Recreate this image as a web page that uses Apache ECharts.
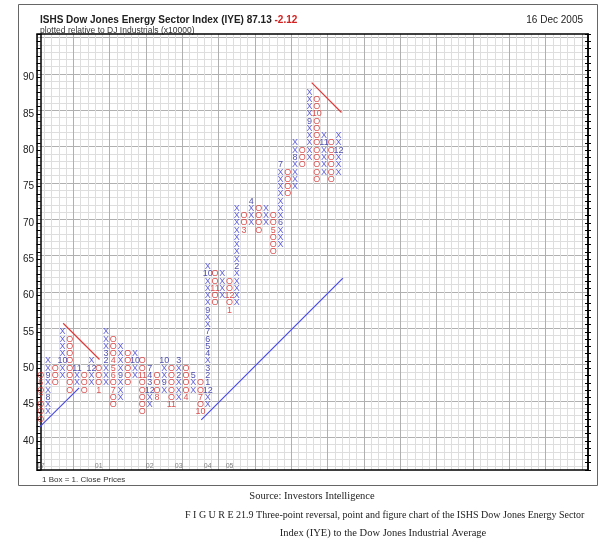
<!DOCTYPE html>
<html><head><meta charset="utf-8">
<script src="https://cdn.jsdelivr.net/npm/echarts@6/dist/echarts.min.js"></script>
<style>html,body{margin:0;padding:0;background:#fff;}#c{width:605px;height:545px;}</style>
</head><body><div id="c"></div><script>
// ---- data ----
const colTypes   = ['O','X','O','X','O','X','O','X','O','X','O','X','O','X','O','X','O','X','O','X','O','X','O','X','O','X','O','X','O','X','O','X','O','X','O','X','O','X','O','X','O','X'];
const colBottoms = [43,44,48,49,47,48,47,48,47,48,45,46,48,49,44,45,46,47,45,46,46,47,44,45,59,60,58,59,69,70,69,70,66,67,74,75,78,79,76,77,76,77];
const colTops    = [49,51,50,55,54,50,49,51,50,55,54,53,52,52,51,50,49,51,50,51,50,49,48,64,63,63,62,72,71,73,72,72,71,78,77,81,80,88,87,82,81,82];
const monthMarks = [
  [0,48,'6'],[0,46,'7'],[1,46,'8'],[1,49,'9'],[3,51,'10'],[5,50,'11'],[7,50,'12'],[8,47,'1'],
  [9,51,'2'],[9,52,'3'],[10,51,'4'],[10,50,'5'],[10,49,'6'],[10,47,'7'],[11,49,'9'],[13,51,'10'],
  [14,49,'11'],[15,47,'12'],[15,48,'3'],[15,49,'4'],[15,50,'7'],[16,46,'8'],[17,48,'9'],[17,51,'10'],
  [18,45,'11'],[19,49,'2'],[19,51,'3'],[20,46,'4'],[21,49,'5'],[22,46,'7'],[22,44,'10'],
  [23,47,'12'],[23,48,'1'],[23,49,'2'],[23,50,'3'],[23,52,'4'],[23,53,'5'],[23,54,'6'],[23,55,'7'],[23,58,'9'],[23,63,'10'],
  [24,61,'11'],[26,60,'12'],[26,58,'1'],[27,64,'2'],[28,69,'3'],[29,73,'4'],[32,69,'5'],[33,70,'6'],[33,78,'7'],
  [35,79,'8'],[37,84,'9'],[38,85,'10'],[39,81,'11'],[41,80,'12']
];
const yearLabels = ['17','01','02','03','04','05'];
const yearCols   = [0,8,15,19,23,26];
const upTrend1   = [[-0.15,41.9],[5.3,47.3]];
const downTrend1 = [[3.1,56.2],[8.1,51.2]];
const upTrend2   = [[22.1,42.9],[41.6,62.4]];
const downTrend2 = [[37.3,89.3],[41.4,85.2]];

// ---- layout ----
const L = 37, T = 34, W = 551, H = 436;
const yMin = 36, yMax = 96;
const cell = H / (yMax - yMin);
const xMax = -0.5 + W / cell;
const colsFull = W / cell;
const SANS = '"Liberation Sans", Arial, sans-serif';
const SERIF = '"Liberation Serif", "DejaVu Serif", serif';

const boxes = [];
colTypes.forEach((t, c) => {
  for (let r = colBottoms[c]; r <= colTops[c]; r++) {
    const m = monthMarks.find(mm => mm[0] === c && mm[1] === r);
    boxes.push({
      value: [c, r],
      name: m ? m[2] : t,
      label: { color: t === 'X' ? (m ? '#24249c' : '#3a3ad4') : '#d42828' }
    });
  }
});
const years = yearLabels.map((s, i) => ({ value: [yearCols[i], yMin + 0.6], name: s }));

const hidden = { show: false };
const lineOnly = (color) => ({
  show: true, axisLine: hidden, axisTick: hidden, axisLabel: hidden,
  splitLine: { show: true, lineStyle: { color: color, width: 1 } }
});

const chart = echarts.init(document.getElementById('c'), null, { renderer: 'canvas' });
chart.setOption({
  animation: false,
  backgroundColor: '#fff',
  title: [
    { left: 35, top: 10, text: '{a|ISHS Dow Jones Energy Sector Index (IYE) 87.13 }{b|-2.12}',
      textStyle: { rich: { a: { fontSize: 10, color: '#222', fontFamily: SANS }, b: { fontSize: 10, color: '#d42020', fontFamily: SANS } } } },
    { left: 35, top: 21, text: 'plotted relative to DJ Industrials (x10000)',
      textStyle: { fontSize: 8.5, fontWeight: 'normal', color: '#333', fontFamily: SANS } },
    { right: 17, top: 10, text: '16 Dec 2005',
      textStyle: { fontSize: 10, fontWeight: 'normal', color: '#222', fontFamily: SANS } },
    { left: 37, top: 471, text: '1 Box = 1. Close Prices',
      textStyle: { fontSize: 8, fontWeight: 'normal', color: '#333', fontFamily: SANS } },
    { left: 307, textAlign: 'center', top: 486, text: 'Source: Investors Intelligence',
      textStyle: { fontSize: 10.5, fontWeight: 'normal', color: '#222', fontFamily: SERIF } },
    { left: 180, top: 505, text: 'F I G U R E 21.9 Three-point reversal, point and figure chart of the ISHS Dow Jones Energy Sector',
      textStyle: { fontSize: 10, fontWeight: 'normal', color: '#222', fontFamily: SERIF } },
    { left: 378, textAlign: 'center', top: 523, text: 'Index (IYE) to the Dow Jones Industrial Average',
      textStyle: { fontSize: 10.5, fontWeight: 'normal', color: '#222', fontFamily: SERIF } }
  ],
  grid: [
    { left: L, top: T, width: W, height: H },
    { left: L, top: T + 0.5 * cell, width: W, height: 59 * cell },
    { left: L, top: T + 0.5 * cell, width: W, height: 55 * cell },
    { left: L, top: T, width: W, height: H },
    { left: L, top: T, width: W, height: H }
  ],
  xAxis: [
    { gridIndex: 0, type: 'value', min: -0.5, max: xMax, show: false },
    { gridIndex: 1, type: 'value', min: 0, max: 1, show: false },
    { gridIndex: 2, type: 'value', min: 0, max: 1, show: false },
    Object.assign({ gridIndex: 3, type: 'value', min: 0, max: colsFull, interval: 1 }, lineOnly('#dedede')),
    Object.assign({ gridIndex: 4, type: 'value', min: 0, max: colsFull, interval: 5 }, lineOnly('#b0b0b0'))
  ],
  yAxis: [
    { gridIndex: 0, type: 'value', min: yMin, max: yMax, interval: 1, position: 'left',
      axisLine: { show: true, lineStyle: { color: '#000', width: 1.5 } },
      axisTick: { show: true, length: 4, lineStyle: { color: '#000' } },
      axisLabel: { show: true, margin: 3, fontSize: 10, color: '#222', fontFamily: SANS,
        formatter: v => (v % 5 === 0 && v >= 40 && v <= 90) ? String(v) : '' },
      splitLine: hidden },
    { gridIndex: 0, type: 'value', min: yMin, max: yMax, interval: 1, position: 'right',
      axisLine: { show: true, lineStyle: { color: '#000', width: 1.5 } },
      axisTick: { show: true, length: 3, lineStyle: { color: '#000' } },
      axisLabel: hidden, splitLine: hidden },
    { gridIndex: 0, type: 'value', min: yMin, max: yMax, interval: 1, position: 'right',
      axisLine: hidden,
      axisTick: { show: true, inside: true, length: 3, lineStyle: { color: '#000' } },
      axisLabel: hidden, splitLine: hidden },
    Object.assign({ gridIndex: 1, type: 'value', min: 0, max: 59, interval: 1 }, lineOnly('#dedede')),
    Object.assign({ gridIndex: 2, type: 'value', min: 0, max: 55, interval: 5 }, lineOnly('#b0b0b0')),
    { gridIndex: 3, type: 'value', min: 0, max: 1, show: false },
    { gridIndex: 4, type: 'value', min: 0, max: 1, show: false }
  ],
  series: [
    { type: 'scatter', xAxisIndex: 0, yAxisIndex: 0, data: boxes, symbolSize: 1,
      itemStyle: { color: 'rgba(0,0,0,0)' }, silent: true, z: 5,
      label: { show: true, position: 'inside', formatter: '{b}', fontSize: 9, fontFamily: SANS } },
    { type: 'scatter', xAxisIndex: 0, yAxisIndex: 0, data: years, symbolSize: 1,
      itemStyle: { color: 'rgba(0,0,0,0)' }, silent: true, z: 5,
      label: { show: true, position: 'inside', formatter: '{b}', fontSize: 7, color: '#666', fontFamily: SANS } },
    { type: 'line', xAxisIndex: 0, yAxisIndex: 0, data: upTrend1, symbol: 'none', z: 4,
      lineStyle: { color: '#4a4ae8', width: 1.2 } },
    { type: 'line', xAxisIndex: 0, yAxisIndex: 0, data: upTrend2, symbol: 'none', z: 4,
      lineStyle: { color: '#4a4ae8', width: 1.2 } },
    { type: 'line', xAxisIndex: 0, yAxisIndex: 0, data: downTrend1, symbol: 'none', z: 4,
      lineStyle: { color: '#e03a3a', width: 1.2 } },
    { type: 'line', xAxisIndex: 0, yAxisIndex: 0, data: downTrend2, symbol: 'none', z: 4,
      lineStyle: { color: '#e03a3a', width: 1.2 } }
  ],
  graphic: [
    { type: 'rect', z: 100, silent: true, shape: { x: L, y: T, width: W, height: H },
      style: { fill: 'none', stroke: '#000', lineWidth: 1.5 } },
    { type: 'rect', z: 100, silent: true, shape: { x: 18.5, y: 4.5, width: 579, height: 481 },
      style: { fill: 'none', stroke: '#666', lineWidth: 1 } }
  ]
});
</script></body></html>
